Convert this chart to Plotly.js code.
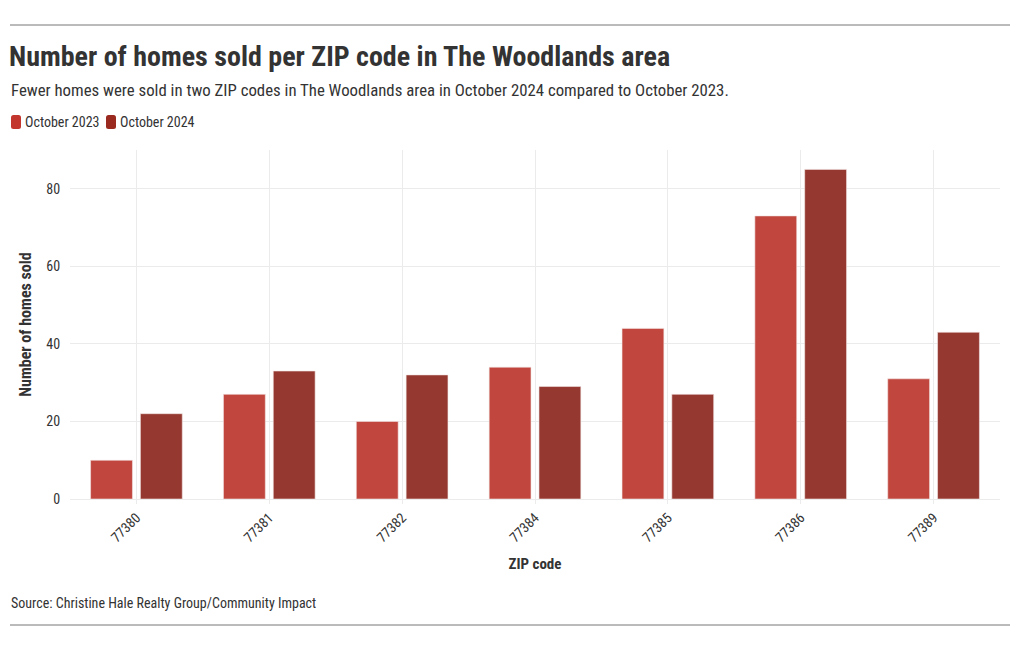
<!DOCTYPE html>
<html>
<head>
<meta charset="utf-8">
<script src="https://cdn.plot.ly/plotly-3.0.1.min.js"></script>
<style>
html,body{margin:0;padding:0;background:#fff;}
#chart{width:1020px;height:650px;}
</style>
</head>
<body>
<div id="chart"></div>
<script>
const zipCodes = ["77380", "77381", "77382", "77384", "77385", "77386", "77389"];
const oct2023 = [10, 27, 20, 34, 44, 73, 31];
const oct2024 = [22, 33, 32, 29, 27, 85, 43];
const seriesNames = ["October 2023", "October 2024"];
const seriesColors = ["#C0463E", "#943830"];
const legendColors = ["#C2362D", "#9A2920"];
const yTicks = [0, 20, 40, 60, 80];

const FONT = "'Roboto Condensed', 'Liberation Sans Narrow', Roboto, sans-serif";
const TXT = "#333333";
const W = 1020, H = 650;
const L = 70, R = 20, T = 150, B = 151;
const PW = W - L - R, PH = H - T - B;
// helpers converting pixel positions into paper coordinates
const px = v => (v - L) / PW;
const py = v => (H - B - v) / PH;

const traces = [
  {
    type: "bar", name: seriesNames[0], x: zipCodes, y: oct2023,
    marker: {color: seriesColors[0], line: {color: "#f4e6e4", width: 0.6}},
    hoverinfo: "x+y+name", showlegend: false
  },
  {
    type: "bar", name: seriesNames[1], x: zipCodes, y: oct2024,
    marker: {color: seriesColors[1], line: {color: "#f4e6e4", width: 0.6}},
    hoverinfo: "x+y+name", showlegend: false
  }
];

function roundRect(x0, y0, w, h, r) {
  const X = v => px(v), Y = v => py(v);
  return `M ${X(x0 + r)} ${Y(y0)} L ${X(x0 + w - r)} ${Y(y0)} Q ${X(x0 + w)} ${Y(y0)} ${X(x0 + w)} ${Y(y0 + r)} ` +
         `L ${X(x0 + w)} ${Y(y0 + h - r)} Q ${X(x0 + w)} ${Y(y0 + h)} ${X(x0 + w - r)} ${Y(y0 + h)} ` +
         `L ${X(x0 + r)} ${Y(y0 + h)} Q ${X(x0)} ${Y(y0 + h)} ${X(x0)} ${Y(y0 + h - r)} ` +
         `L ${X(x0)} ${Y(y0 + r)} Q ${X(x0)} ${Y(y0)} ${X(x0 + r)} ${Y(y0)} Z`;
}

const legendX = [11, 106];
const shapes = [
  {type: "line", xref: "paper", yref: "paper", x0: px(10), x1: px(1010), y0: py(25), y1: py(25), line: {color: "#777777", width: 1}},
  {type: "line", xref: "paper", yref: "paper", x0: px(10), x1: px(1010), y0: py(625), y1: py(625), line: {color: "#777777", width: 1}}
];
const annotations = [
  {
    text: "Fewer homes were sold in two ZIP codes in The Woodlands area in October 2024 compared to October 2023.",
    xref: "paper", yref: "paper", x: px(9), y: py(90),
    xanchor: "left", yanchor: "middle", showarrow: false,
    font: {family: FONT, size: 16.8, color: TXT}
  },
  {
    text: "Source: Christine Hale Realty Group/Community Impact",
    xref: "paper", yref: "paper", x: px(9), y: py(603),
    xanchor: "left", yanchor: "middle", showarrow: false,
    font: {family: FONT, size: 14, color: TXT}
  }
];
seriesNames.forEach((name, i) => {
  shapes.push({
    type: "path", xref: "paper", yref: "paper",
    path: roundRect(legendX[i], 115, 10, 14, 2.5),
    fillcolor: legendColors[i], line: {width: 0}
  });
  annotations.push({
    text: name, xref: "paper", yref: "paper", x: px(legendX[i] + 12), y: py(122),
    xanchor: "left", yanchor: "middle", showarrow: false,
    font: {family: FONT, size: 14, color: TXT}
  });
});

const layout = {
  width: W, height: H,
  paper_bgcolor: "#ffffff", plot_bgcolor: "#ffffff",
  font: {family: FONT, color: TXT, size: 14},
  margin: {l: L, r: R, t: T, b: B},
  barmode: "group", bargap: 0.25, bargroupgap: 0.16,
  title: {
    text: "<b>Number of homes sold per ZIP code in The Woodlands area</b>",
    font: {family: FONT, size: 28, color: TXT},
    xref: "container", yref: "container", x: 9/W, y: 1 - 56/H,
    xanchor: "left", yanchor: "middle"
  },
  showlegend: false,
  xaxis: {
    type: "category", range: [-0.5, 6.5],
    tickangle: -45, showgrid: true, gridcolor: "#ebebeb", gridwidth: 1,
    showline: true, linecolor: "#ebebeb", zeroline: false,
    ticks: "outside", ticklen: 4, tickcolor: "#ebebeb",
    tickfont: {family: FONT, size: 14, color: TXT},
    title: {text: "<b>ZIP code</b>", font: {family: FONT, size: 15, color: TXT}, standoff: 14},
    fixedrange: true
  },
  yaxis: {
    range: [0, 90], tickvals: yTicks, ticktext: yTicks.map(String),
    showgrid: true, gridcolor: "#ebebeb", gridwidth: 1,
    zeroline: false, showline: false,
    ticks: "outside", ticklen: 6, tickcolor: "#ffffff",
    tickfont: {family: FONT, size: 14, color: TXT},
    title: {text: "<b>Number of homes sold</b>", font: {family: FONT, size: 16, color: TXT}, standoff: 10},
    fixedrange: true
  },
  shapes: shapes,
  annotations: annotations
};

Plotly.newPlot("chart", traces, layout, {displayModeBar: false, responsive: false});
</script>
</body>
</html>
